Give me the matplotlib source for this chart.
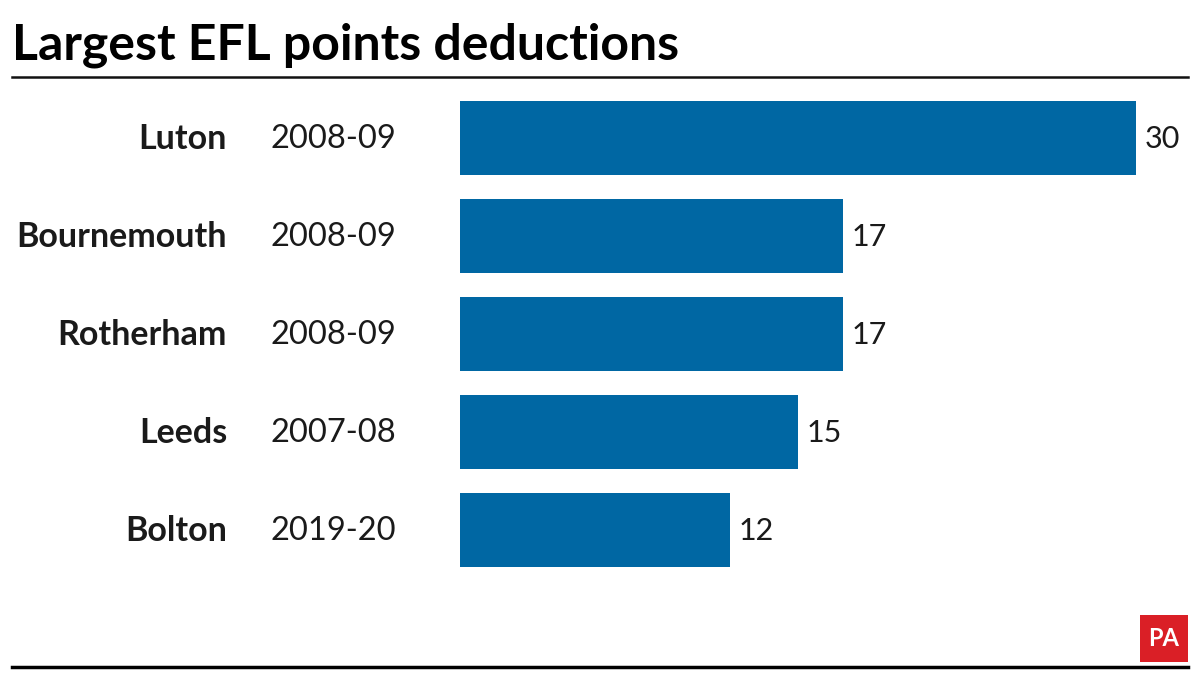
import matplotlib
matplotlib.use("Agg")
import matplotlib.pyplot as plt
from matplotlib.patches import Rectangle

teams = ["Luton", "Bournemouth", "Rotherham", "Leeds", "Bolton"]
seasons = ["2008-09", "2008-09", "2008-09", "2007-08", "2019-20"]
points = [30, 17, 17, 15, 12]

BAR = "#0067a3"
FONT = "Lato"

fig = plt.figure(figsize=(12, 6.75), dpi=100)
fig.patch.set_facecolor("white")

# bar area in figure pixels: x 460..1136, rows centred 138..532 (step 98)
ax = fig.add_axes([460 / 1200, (675 - 579) / 675, 676 / 1200, 490 / 675])
ypos = list(range(len(teams)))
ax.barh(ypos, points, height=0.755, color=BAR)
ax.set_xlim(0, 30)
ax.set_ylim(len(teams) - 0.5, -0.5)
ax.axis("off")

for y, v in zip(ypos, points):
    ax.annotate(str(v), (v, y), xytext=(6, -1), textcoords="offset points",
                ha="left", va="center", fontsize=22, family=FONT, color="#1a1a1a")

# labels to the left of the bars
for y, team, season in zip(ypos, teams, seasons):
    fy = (675 - (139 + 98 * y)) / 675
    fig.text(227 / 1200, fy, team, ha="right", va="center", fontsize=24.5,
             fontweight="bold", family=FONT, color="#1a1a1a")
    fig.text(333 / 1200, fy, season, ha="center", va="center", fontsize=23.5,
             family=FONT, color="#1a1a1a")

fig.text(12 / 1200, (675 - 45) / 675, "Largest EFL points deductions",
         ha="left", va="center", fontsize=36, fontweight="bold", family=FONT,
         color="black")

# rules top and bottom
fig.add_artist(plt.Line2D([12 / 1200, 1188 / 1200], [(675 - 77) / 675] * 2,
                          color="#111111", lw=1.8))
fig.add_artist(plt.Line2D([12 / 1200, 1188 / 1200], [(675 - 667) / 675] * 2,
                          color="black", lw=2.5))

# PA logo
fig.add_artist(Rectangle((1140 / 1200, (675 - 662) / 675), 48 / 1200, 47 / 675,
                         transform=fig.transFigure, color="#da1f26", lw=0))
fig.text(1164 / 1200, (675 - 638) / 675, "PA", ha="center", va="center",
         fontsize=17, fontweight="bold", family=FONT, color="white")

fig.savefig("out.png", dpi=100, facecolor="white")
